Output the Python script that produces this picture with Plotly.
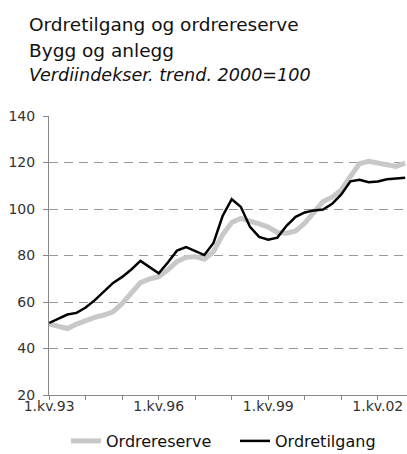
import plotly.graph_objects as go

years = list(range(1993, 2003))
quarters = [f"{q}.kv.{str(y)[2:]}" for y in years for q in range(1, 5)]

ordretilgang = [51.0, 52.9, 54.6, 55.3, 57.6, 60.8, 64.5, 68.2, 70.8, 74.0,
                77.7, 75.0, 72.3, 77.0, 82.1, 83.6, 82.0, 80.2, 85.4, 97.0,
                104.2, 100.9, 92.3, 88.0, 86.8, 87.7, 92.8, 96.6, 98.5, 99.4,
                99.8, 102.2, 106.3, 111.9, 112.6, 111.5, 111.8, 112.8, 113.1, 113.4]

ordrereserve = [50.5, 49.6, 48.6, 50.5, 52.2, 53.4, 54.4, 55.8, 59.4, 64.0,
                68.3, 69.9, 70.9, 73.8, 77.4, 79.2, 79.5, 78.4, 81.7, 88.9,
                94.2, 96.0, 95.0, 93.6, 92.2, 89.9, 89.6, 90.6, 93.9, 98.2,
                103.2, 105.1, 108.2, 114.0, 119.5, 120.5, 119.7, 118.7, 118.3, 119.7]

yticks = [20, 40, 60, 80, 100, 120, 140]
tick_idx = list(range(0, len(quarters), 4))
tickvals = [quarters[i] for i in tick_idx]
ticktext = [quarters[i] if (years[i // 4] - years[0]) % 3 == 0 else "" for i in tick_idx]

titles = ["Ordretilgang og ordrereserve", "Bygg og anlegg",
          "<i>Verdiindekser. trend. 2000=100</i>"]

# layout constants (pixels)
W, H = 407, 454
L, R, T, B = 49, 0, 116, 59
PW, PH = W - L - R, H - T - B

def px_x(x):
    return (x - L) / PW

def px_y(y):
    return (H - B - y) / PH

fig = go.Figure()
fig.add_trace(go.Scatter(x=quarters, y=ordrereserve, mode="lines", name="Ordrereserve",
                         line=dict(color="#c8c8c8", width=5)))
fig.add_trace(go.Scatter(x=quarters, y=ordretilgang, mode="lines", name="Ordretilgang",
                         line=dict(color="#000000", width=2.5)))

font = "DejaVu Sans, Liberation Sans, Arial, sans-serif"
fig.update_layout(
    width=W, height=H,
    margin=dict(l=L, r=R, t=T, b=B, autoexpand=False),
    paper_bgcolor="white", plot_bgcolor="white",
    font=dict(family=font, size=14, color="#222"),
    showlegend=True,
    legend=dict(orientation="h", x=66 / W, xanchor="left", xref="container",
                y=1 - 441 / H, yanchor="middle", yref="container",
                font=dict(size=16, color="#111"),
                entrywidth=124, entrywidthmode="pixels",
                bgcolor="rgba(0,0,0,0)"),
)
for txt, ypx, size in zip(titles, [24, 51, 75], [18.5, 18.5, 17.6]):
    fig.add_annotation(text=txt, x=px_x(27), y=px_y(ypx), xref="paper", yref="paper",
                       xanchor="left", yanchor="middle", showarrow=False,
                       font=dict(size=size, color="#111", family=font))

fig.update_xaxes(
    type="category", range=[-0.02, 39.2],
    tickvals=tickvals, ticktext=ticktext, tickangle=0,
    showgrid=False, showline=True, linecolor="#888", linewidth=1,
    ticks="outside", ticklen=4, tickcolor="#888", ticklabelstandoff=-6,
    tickfont=dict(size=14, color="#333"), zeroline=False,
)
fig.update_yaxes(
    range=[20, 140], tickvals=yticks,
    showgrid=True, gridcolor="#999", griddash="9px,6px", gridwidth=1,
    showline=True, linecolor="#888", linewidth=1,
    ticks="outside", ticklen=5, tickcolor="#888", ticklabelstandoff=5,
    tickfont=dict(size=14, color="#333"), zeroline=False,
)

fig.write_html("out.html", config={"displayModeBar": False},
               post_script="document.body.style.margin='0';document.body.style.overflow='hidden';")
